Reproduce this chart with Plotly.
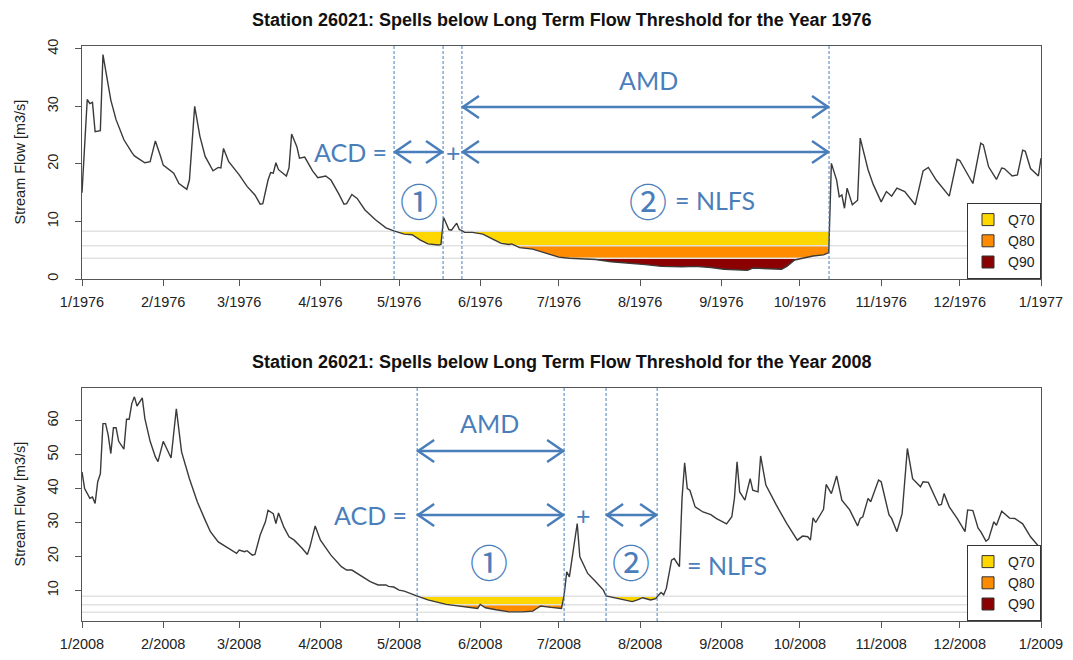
import numpy as np
import pandas as pd
import plotly.graph_objects as go

# ---------------- data ----------------
days_1976 = [0, 2, 3, 4, 5, 7, 8, 11, 13, 16, 19, 20, 22, 24, 26, 28, 30, 31, 35, 37,
             40, 41, 43, 45, 47, 50, 52, 53, 54, 56, 60, 63, 66, 68, 69, 71, 72, 73, 74, 75,
             78, 79, 80, 82, 83, 85, 88, 90, 93, 95, 98, 100, 101, 103, 105, 108, 112, 116, 119, 123,
             126, 129, 132, 136, 137, 138, 140, 141, 143, 144, 145, 146, 149, 153, 156, 160, 163, 164, 167, 172,
             177, 182, 186, 191, 196, 202, 209, 215, 221, 229, 234, 240, 245, 250, 254, 256, 260, 264, 267, 269,
             272, 275, 279, 283, 284, 285, 286, 288, 289, 290, 291, 292, 294, 296, 297, 300, 302, 305, 307, 309,
             311, 314, 318, 321, 323, 326, 331, 334, 335, 340, 343, 344, 346, 349, 351, 352, 355, 357, 359, 360,
             362, 365, 366]
flow_1976 = [15.0, 31.2, 30.5, 30.7, 25.6, 25.8, 39.0, 31.1, 27.7, 24.2, 22.0, 21.4, 20.8, 20.2, 20.4, 24.0, 21.3, 19.8, 18.4, 16.6,
             15.6, 17.2, 30.0, 24.8, 21.3, 18.8, 19.4, 19.3, 22.7, 20.4, 18.1, 16.1, 14.6, 13.0, 13.1, 17.2, 18.5, 18.4, 20.2, 19.0,
             17.9, 19.3, 25.2, 23.0, 21.0, 21.2, 18.8, 17.6, 17.9, 17.2, 14.8, 13.0, 13.1, 14.7, 14.0, 12.0, 10.3, 8.9, 8.35, 7.8,
             7.7, 6.8, 6.1, 5.9, 6.0, 10.7, 8.6, 8.5, 9.7, 8.6, 8.4, 8.1, 8.1, 7.8, 7.1, 6.2, 6.0, 6.1, 5.45, 5.2,
             4.5, 3.8, 3.6, 3.55, 3.4, 3.0, 2.8, 2.5, 2.2, 2.1, 2.2, 2.0, 1.7, 1.6, 1.5, 1.9, 1.85, 1.7, 1.7, 2.2,
             3.3, 3.6, 4.0, 4.2, 4.4, 4.6, 20.1, 17.2, 14.3, 14.6, 12.3, 15.8, 12.9, 13.7, 24.5, 19.0, 16.4, 13.4, 15.2, 14.4,
             15.8, 15.2, 12.9, 18.8, 19.4, 17.2, 14.4, 20.8, 20.6, 16.6, 23.6, 23.3, 19.5, 17.3, 19.3, 19.2, 17.9, 18.1, 22.4, 22.2,
             19.2, 17.9, 21.0]

days_2008 = [0, 1, 3, 4, 5, 6, 7, 8, 9, 10, 11, 12, 13, 14, 16, 17, 18, 19, 20, 21,
             23, 24, 26, 28, 29, 31, 32, 34, 36, 38, 41, 44, 47, 49, 52, 55, 56, 59, 60, 62,
             63, 65, 66, 68, 70, 71, 73, 74, 75, 77, 79, 81, 84, 86, 87, 89, 91, 95, 99, 101,
             103, 107, 110, 113, 116, 117, 119, 121, 123, 128, 132, 139, 145, 151, 152, 154, 158, 163, 168, 172,
             174, 175, 179, 183, 184, 185, 186, 189, 190, 193, 196, 199, 200, 203, 207, 210, 212, 214, 217, 219,
             220, 221, 222, 223, 225, 226, 228, 229, 230, 231, 232, 234, 237, 240, 242, 246, 248, 249, 250, 251,
             253, 255, 256, 258, 259, 261, 265, 269, 273, 275, 277, 278, 279, 280, 283, 284, 286, 288, 290, 293,
             296, 297, 298, 300, 301, 304, 305, 308, 309, 311, 313, 315, 317, 320, 321, 323, 327, 328, 329, 331,
             334, 337, 338, 340, 342, 343, 345, 346, 348, 349, 351, 354, 356, 359, 362, 366]
flow_2008 = [44.9, 40.0, 37.1, 37.5, 35.6, 42.0, 44.3, 59.1, 59.1, 55.7, 50.3, 57.9, 57.9, 53.9, 51.6, 60.4, 60.4, 65.0, 67.0, 64.3,
             66.7, 60.6, 53.9, 49.3, 47.9, 53.9, 52.3, 49.0, 63.5, 50.8, 42.9, 36.1, 30.7, 27.3, 24.3, 22.9, 22.4, 20.9, 21.9, 21.4,
             21.7, 20.4, 20.6, 26.3, 30.2, 33.6, 32.6, 29.7, 32.8, 28.7, 25.8, 24.8, 22.4, 20.6, 22.9, 29.0, 24.8, 20.4, 17.0, 16.0,
             16.0, 14.0, 12.6, 11.6, 11.6, 11.2, 11.0, 10.1, 9.8, 8.35, 7.2, 5.9, 5.2, 4.7, 5.9, 4.9, 4.3, 3.7, 3.7, 3.9,
             4.9, 5.4, 5.0, 4.7, 8.6, 15.5, 14.0, 29.7, 19.9, 15.0, 12.6, 10.1, 8.4, 7.85, 7.2, 6.7, 7.2, 7.85, 7.2, 7.6,
             8.6, 9.4, 8.7, 10.6, 18.9, 19.4, 17.0, 37.1, 47.6, 40.0, 39.5, 34.6, 33.1, 32.3, 31.2, 29.6, 31.7, 37.1, 47.9, 39.0,
             36.6, 42.9, 39.5, 39.0, 49.6, 41.0, 35.1, 29.7, 24.8, 26.0, 25.8, 24.8, 31.4, 30.0, 33.9, 41.2, 38.5, 43.7, 36.6, 33.7,
             29.0, 31.2, 31.7, 37.1, 36.1, 42.5, 42.0, 32.2, 31.2, 27.3, 32.6, 51.8, 42.9, 40.5, 42.0, 41.8, 35.1, 35.3, 38.5, 34.6,
             31.2, 27.3, 33.7, 33.5, 28.3, 27.3, 24.5, 25.1, 30.2, 29.2, 33.3, 31.3, 31.2, 29.6, 25.8, 22.2]

threshold_names = ["Q70", "Q80", "Q90"]
threshold_values = [8.3, 5.8, 3.6]
threshold_colors = ["#FFD700", "#FF8C00", "#8B0000"]

# spell boundaries (day of year) marked by dashed lines
bounds_1976 = [119.1, 137.8, 145.0, 285.1]
bounds_2008 = [127.9, 184.0, 200.0, 219.5]

month_labels = ["1", "2", "3", "4", "5", "6", "7", "8", "9", "10", "11", "12"]

assert len(days_1976) == len(flow_1976), (len(days_1976), len(flow_1976))
assert len(days_2008) == len(flow_2008), (len(days_2008), len(flow_2008))

# ---------------- helpers ----------------
W, H = 1073, 660
BLUE = "#4A7EBB"
TXT = "#222222"


def to_dates(year, days):
    base = pd.Timestamp(f"{year}-01-01")
    return [None if d is None else (base + pd.Timedelta(days=float(d))) for d in days]


def below_polygons(x, y, T):
    """Polygons of the area between threshold T and the flow where flow < T."""
    px, py = [], []
    cur = None
    below = [v < T for v in y]
    for i in range(len(x)):
        if i > 0 and below[i] != below[i - 1]:
            if y[i] == y[i - 1]:
                xc = x[i]
            else:
                xc = x[i - 1] + (T - y[i - 1]) * (x[i] - x[i - 1]) / (y[i] - y[i - 1])
            if below[i]:
                cur = [(xc, T)]
            else:
                cur.append((xc, T))
                px += [p[0] for p in cur] + [None]
                py += [p[1] for p in cur] + [None]
                cur = None
        if below[i]:
            if cur is None:
                cur = [(x[i], T)]
            cur.append((x[i], y[i]))
    if cur is not None:
        cur.append((x[-1], T))
        px += [p[0] for p in cur] + [None]
        py += [p[1] for p in cur] + [None]
    return px, py


fig = go.Figure()

panels = [
    dict(year=1976, days=days_1976, flow=flow_1976, bounds=bounds_1976, xa="x", ya="y", leg="legend"),
    dict(year=2008, days=days_2008, flow=flow_2008, bounds=bounds_2008, xa="x2", ya="y2", leg="legend2"),
]

for p in panels:
    yr = p["year"]
    d, f = p["days"], p["flow"]
    # spell fills
    for name, T, col in zip(threshold_names, threshold_values, threshold_colors):
        px_, py_ = below_polygons(d, f, T)
        if px_:
            fig.add_trace(go.Scatter(x=to_dates(yr, px_), y=py_, mode="lines", fill="toself",
                                     fillcolor=col, line=dict(width=0, color=col), showlegend=False,
                                     hoverinfo="skip", xaxis=p["xa"], yaxis=p["ya"]))
    # threshold lines
    for T in threshold_values:
        fig.add_trace(go.Scatter(x=to_dates(yr, [0, 366]), y=[T, T], mode="lines",
                                 line=dict(color="#E2E2E2", width=1.5), showlegend=False,
                                 hoverinfo="skip", xaxis=p["xa"], yaxis=p["ya"]))
    # flow line
    fig.add_trace(go.Scatter(x=to_dates(yr, d), y=f, mode="lines",
                             line=dict(color="#3A3A3A", width=1.4), showlegend=False,
                             xaxis=p["xa"], yaxis=p["ya"]))
    # legend entries
    for name, col in zip(threshold_names, threshold_colors):
        fig.add_trace(go.Scatter(x=[None], y=[None], mode="markers", name=name,
                                 marker=dict(symbol="square", size=12, color=col,
                                             line=dict(color="#333333", width=1)),
                                 legend=p["leg"], xaxis=p["xa"], yaxis=p["ya"]))

# ---------------- axes ----------------
xdom = [82 / W, 1041 / W]
ydom1 = [1 - 279 / H, 1 - 46 / H]
ydom2 = [1 - 621 / H, 1 - 388 / H]

axis_common = dict(showgrid=False, zeroline=False, showline=True, mirror=True,
                   linecolor="#555555", linewidth=1, ticks="outside", ticklen=6,
                   tickcolor="#555555", tickfont=dict(family="Liberation Sans, Arial", size=14.5, color=TXT))


def xaxis_for(year, anchor):
    tv = [pd.Timestamp(f"{year}-{m}-01") for m in range(1, 13)] + [pd.Timestamp(f"{year + 1}-01-01")]
    tt = [f"{m}/{year}" for m in month_labels] + [f"1/{year + 1}"]
    return dict(axis_common, domain=xdom, anchor=anchor, type="date",
                range=[f"{year}-01-01", f"{year + 1}-01-01"], tickvals=tv, ticktext=tt, tickangle=0,
                ticklabelstandoff=4)


fig.update_layout(
    xaxis=xaxis_for(1976, "y"),
    yaxis=dict(axis_common, domain=ydom1, anchor="x", range=[0, 40.5],
               tickvals=[0, 10, 20, 30, 40], tickangle=-90, ticklabelstandoff=11),
    xaxis2=xaxis_for(2008, "y2"),
    yaxis2=dict(axis_common, domain=ydom2, anchor="x2", range=[1.0, 69.6],
                tickvals=[10, 20, 30, 40, 50, 60], tickangle=-90, ticklabelstandoff=11),
)

leg_common = dict(x=1041 / W, xanchor="right", yanchor="bottom", bgcolor="white",
                  bordercolor="#333333", borderwidth=1,
                  font=dict(family="Liberation Sans, Arial", size=14, color=TXT),
                  tracegroupgap=0, itemwidth=30)
fig.update_layout(legend=dict(leg_common, y=1 - 279 / H),
                  legend2=dict(leg_common, y=1 - 621 / H))

# ---------------- annotations ----------------
ann = []


def text(x, y, s, size=25, family="Lato", color=BLUE, **kw):
    ann.append(dict(x=x / W, y=1 - y / H, xref="paper", yref="paper", text=s, showarrow=False,
                    font=dict(family=family, size=size, color=color), xanchor="center",
                    yanchor="middle", **kw))


for yt, yr in [(20, 1976), (362, 2008)]:
    text(561.5, yt, f"<b>Station 26021: Spells below Long Term Flow Threshold for the Year {yr}</b>",
         size=18, family="Liberation Sans, Arial", color="#111111")
for yc in [162.5, 504.5]:
    text(19, yc, "Stream Flow [m3/s]", size=14.5, family="Liberation Sans, Arial", color=TXT, textangle=-90)

CIRC = 38
# top panel text
text(350, 152, "ACD =")
text(453, 152, "+")
text(648, 80, "AMD")
text(419, 200, "①", size=CIRC, family="Noto Sans CJK JP")
text(648, 200, "②", size=CIRC, family="Noto Sans CJK JP")
text(715, 200, "= NLFS")
# bottom panel text
text(370, 515, "ACD =")
text(583, 515, "+")
text(489, 423, "AMD")
text(489, 560, "①", size=CIRC, family="Noto Sans CJK JP")
text(631, 560, "②", size=CIRC, family="Noto Sans CJK JP")
text(727, 565, "= NLFS")

fig.update_layout(annotations=ann)

# ---------------- shapes: dashed spell lines and double arrows ----------------
shapes = []
for p in panels:
    for b in p["bounds"]:
        dt = to_dates(p["year"], [b])[0]
        shapes.append(dict(type="line", xref=p["xa"], yref=p["ya"] + " domain", x0=dt, x1=dt, y0=0, y1=1,
                           line=dict(color=BLUE, width=1, dash="3px,2px")))


def darrow(xa, year, d0, d1, ypx):
    x0, x1 = to_dates(year, [d0, d1])
    yp = 1 - ypx / H
    ln = dict(color=BLUE, width=2.5)
    shapes.append(dict(type="line", xref=xa, yref="paper", x0=x0, x1=x1, y0=yp, y1=yp, line=ln))
    shapes.append(dict(type="path", xref=xa, yref="paper", xsizemode="pixel", ysizemode="pixel",
                       xanchor=x0, yanchor=yp, path="M 17,11 L 1,0 L 17,-11", line=ln))
    shapes.append(dict(type="path", xref=xa, yref="paper", xsizemode="pixel", ysizemode="pixel",
                       xanchor=x1, yanchor=yp, path="M -17,11 L -1,0 L -17,-11", line=ln))


b = bounds_1976
darrow("x", 1976, b[0], b[1], 152)
darrow("x", 1976, b[2], b[3], 152)
darrow("x", 1976, b[2], b[3], 107)
b = bounds_2008
darrow("x2", 2008, b[0], b[1], 451)
darrow("x2", 2008, b[0], b[1], 515)
darrow("x2", 2008, b[2], b[3], 515)

fig.update_layout(shapes=shapes)

fig.update_layout(width=W, height=H, autosize=False,
                  margin=dict(l=0, r=0, t=0, b=0, pad=0, autoexpand=False),
                  paper_bgcolor="white", plot_bgcolor="white", hovermode=False)

fig.write_html("out.html", config={"displayModeBar": False},
               post_script="document.body.style.margin='0';document.body.style.padding='0';"
                           "document.documentElement.style.overflow='hidden';")
